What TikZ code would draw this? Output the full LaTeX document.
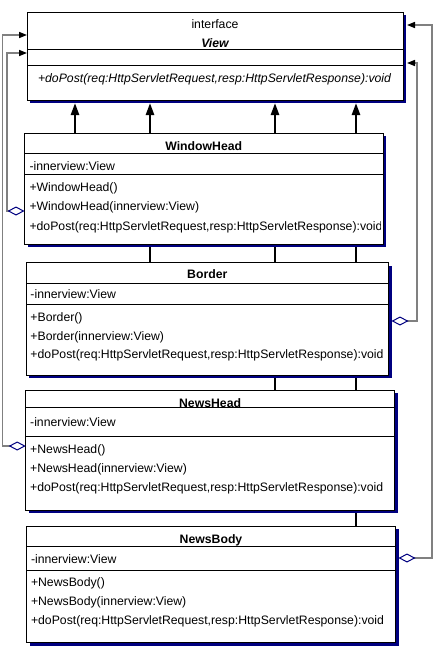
\documentclass[tikz,border=0pt]{standalone}
\usepackage{fontspec}
\setmainfont{Liberation Sans}
\usetikzlibrary{arrows.meta,shadows}
\pgfdeclarelayer{background}
\pgfsetlayers{background,main}
\definecolor{navy}{RGB}{0,0,128}
\definecolor{lgray}{RGB}{128,128,128}
\newcommand\tfont{\fontsize{12.25}{14}\selectfont}
\tikzset{
  cbox/.style={draw=black, fill=white, line width=1pt, inner sep=0pt, outer sep=0pt,
    anchor=north west,
    drop shadow={shadow xshift=3pt, shadow yshift=-3pt, fill=navy, opacity=1}},
  sepline/.style={draw=black, line width=1pt},
  txt/.style={inner sep=0pt, outer sep=0pt, font=\tfont, anchor=base west},
  ttl/.style={txt, anchor=base, font=\tfont\bfseries},
  gen/.style={draw=black, line width=2.5pt, -{Triangle[length=12pt,width=8pt]}, shorten >=3pt},
  agg/.style={draw=lgray, line width=1.5pt,
    {Diamond[open,length=17pt,width=9pt,navy,line width=1pt]}-{Triangle[length=8pt,width=6pt,black]}}
}
\newcommand\classbox[7]{%
  \node[cbox, minimum width={(#4-#2)*1pt}, minimum height={(#5-#3)*1pt}] (#1) at (#2,#3) {};
  \draw[sepline] (#1.west |- 0,#6) -- (#1.east |- 0,#6);
  \draw[sepline] (#1.west |- 0,#7) -- (#1.east |- 0,#7);
}
\begin{document}
\begin{tikzpicture}[x=1pt,y=-1pt]
\useasboundingbox (0,0) rectangle (436,662);

% ---- class boxes ----
\classbox{view}{27}{12}{403}{100}{49}{65}
\node[txt, anchor=base] (view-st) at (215,28.3) {interface};
\node[ttl, font=\tfont\bfseries\itshape] (view-t) at (215,47.3) {View};
\node[txt, font=\tfont\itshape] (view-o1) at (38,82.3) {+doPost(req:HttpServletRequest,resp:HttpServletResponse):void};

\classbox{wh}{24.5}{133}{383}{244}{153.5}{174.5}
\node[ttl] (wh-t) at (203.75,150) {WindowHead};
\node[txt] (wh-a) at (29.5,170) {-innerview:View};
\node[txt] (wh-o1) at (29.5,191) {+WindowHead()};
\node[txt] (wh-o2) at (29.5,210.3) {+WindowHead(innerview:View)};
\begin{scope}
  \clip (wh.north west) rectangle ([xshift=-3pt]wh.south east);
  \node[txt] (wh-o3) at (29.5,230.3) {+doPost(req:HttpServletRequest,resp:HttpServletResponse):void};
\end{scope}

\classbox{bd}{26}{262.5}{388.5}{375}{283}{304.5}
\node[ttl] (bd-t) at (207.25,278.6) {Border};
\node[txt] (bd-a) at (30.5,298.6) {-innerview:View};
\node[txt] (bd-o1) at (30.5,321) {+Border()};
\node[txt] (bd-o2) at (30.5,340) {+Border(innerview:View)};
\node[txt] (bd-o3) at (30.5,358.6) {+doPost(req:HttpServletRequest,resp:HttpServletResponse):void};

\classbox{nh}{25.7}{390}{394.5}{510}{407.7}{436.7}
\node[ttl] (nh-t) at (210.1,407) {NewsHead};
\node[txt] (nh-a) at (30.2,426.6) {-innerview:View};
\node[txt] (nh-o1) at (30.2,453.3) {+NewsHead()};
\node[txt] (nh-o2) at (30.2,472) {+NewsHead(innerview:View)};
\node[txt] (nh-o3) at (30.2,491) {+doPost(req:HttpServletRequest,resp:HttpServletResponse):void};

\classbox{nb}{26.5}{526}{395.5}{642.5}{546.7}{570.7}
\node[ttl] (nb-t) at (211,543.3) {NewsBody};
\node[txt] (nb-a) at (31,563.3) {-innerview:View};
\node[txt] (nb-o1) at (31,586.6) {+NewsBody()};
\node[txt] (nb-o2) at (31,605) {+NewsBody(innerview:View)};
\node[txt] (nb-o3) at (31,624.3) {+doPost(req:HttpServletRequest,resp:HttpServletResponse):void};

% ---- generalizations (behind boxes) ----
\begin{pgfonlayer}{background}
\draw[gen] (wh.north -| 75,0) -- (view.south -| 75,0);
\draw[gen] (bd.north -| 150,0) -- (view.south -| 150,0);
\draw[gen] (nh.north -| 275,0) -- (view.south -| 275,0);
\draw[gen] (nb.north -| 356,0) -- (view.south -| 356,0);
\end{pgfonlayer}

% ---- aggregations ----
\draw[agg] (wh.west |- 0,211) -- (7,211) -- (7,53) -- (view.west |- 0,53);
\draw[agg] (nh.west |- 0,446) -- (2.5,446) -- (2.5,35) -- (view.west |- 0,35);
\draw[agg, shorten <=3pt, shorten >=4pt] (bd.east |- 0,321) -- (417,321) -- (417,63) -- (view.east |- 0,63);
\draw[agg, shorten <=3pt, shorten >=4pt] (nb.east |- 0,558) -- (432,558) -- (432,25) -- (view.east |- 0,25);
\end{tikzpicture}
\end{document}
